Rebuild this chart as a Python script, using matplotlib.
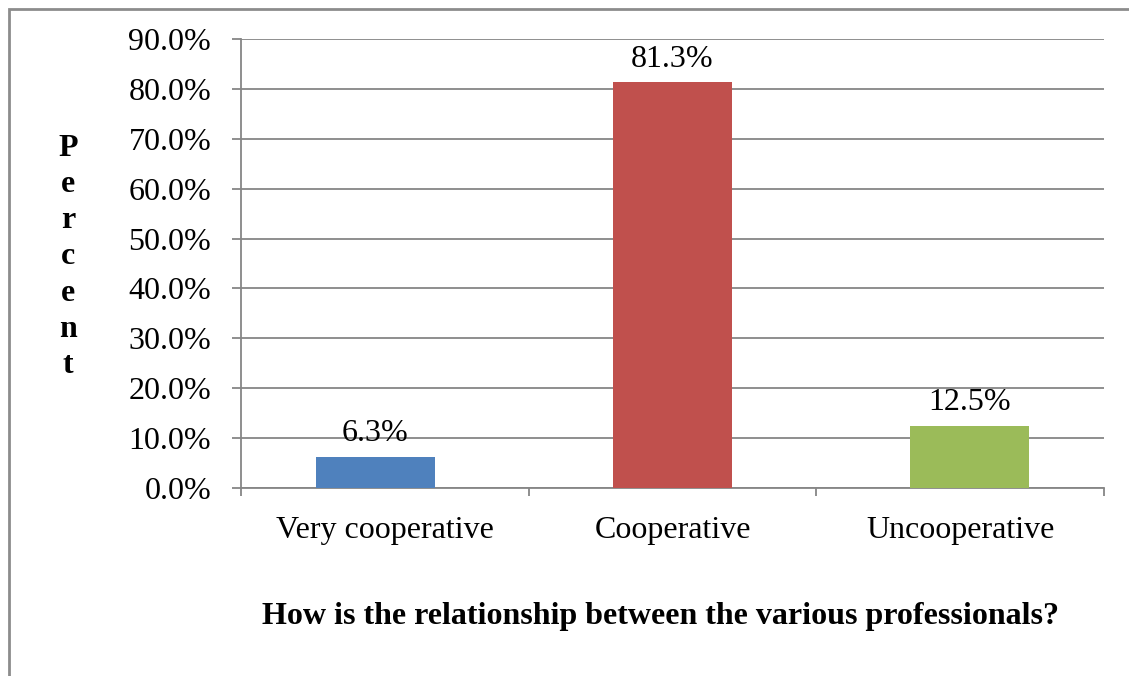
import matplotlib.pyplot as plt
from matplotlib.ticker import FuncFormatter, MultipleLocator
from matplotlib.patches import Rectangle

categories = ['Very cooperative', 'Cooperative', 'Uncooperative']
percents = [6.3, 81.3, 12.5]
bar_colors = ['#4F81BD', '#C0504D', '#9BBB59']

plt.rcParams['font.family'] = ['Liberation Serif', 'DejaVu Serif']
fs = 23

fig = plt.figure(figsize=(11.29, 6.76), dpi=100)
W, H = 1129, 676
# chart frame (left and top edges visible)
fig.patches.append(Rectangle((9 / W, -0.1), 1.2, 1 - 9 / H + 0.1, transform=fig.transFigure,
                             fill=False, edgecolor='#8c8c8c', linewidth=2))

ax = fig.add_axes([241 / W, 1 - 488 / H, (1104 - 241) / W, (488 - 39) / H])
grid_c = '#868686'
x = list(range(len(categories)))
# bars sit slightly wider apart than the category slots
bar_x = [1 + (i - 1) * 1.033 for i in x]
ax.bar(bar_x, percents, width=0.414, color=bar_colors, zorder=3)
for xi, v in zip(bar_x, percents):
    ax.annotate(f'{v:.1f}%', (xi, v), xytext=(0, 6), textcoords='offset points',
                ha='center', va='bottom', fontsize=fs)

ax.set_xlim(-0.5, 2.5)
ax.set_ylim(0, 90)
ax.yaxis.set_major_locator(MultipleLocator(10))
ax.yaxis.set_major_formatter(FuncFormatter(lambda v, p: f'{v:.1f}%'))
ax.grid(axis='y', color=grid_c, linewidth=1.3, zorder=0)
for s in ['top', 'right']:
    ax.spines[s].set_visible(False)
for s in ['left', 'bottom']:
    ax.spines[s].set_color(grid_c)
    ax.spines[s].set_linewidth(1.3)

ax.set_xticks(x)
ax.set_xticklabels(categories, fontsize=fs)
ax.set_xticks([-0.5, 0.5, 1.5, 2.5], minor=True)
ax.tick_params(axis='x', which='major', length=0, pad=20)
ax.tick_params(axis='x', which='minor', length=6, color=grid_c, width=1.3)
ax.tick_params(axis='y', length=6.5, color=grid_c, width=1.3, labelsize=fs, pad=15)

ax.set_xlabel('How is the relationship between the various professionals?',
              fontsize=fs, fontweight='bold', labelpad=41)
ax.xaxis.label.set_x(0.486)
fig.text(68 / W, 1 - 257 / H, '\n'.join('Percent'), fontsize=fs, fontweight='bold',
         ha='center', va='center', linespacing=1.32)

fig.savefig('out.png', dpi=100)
